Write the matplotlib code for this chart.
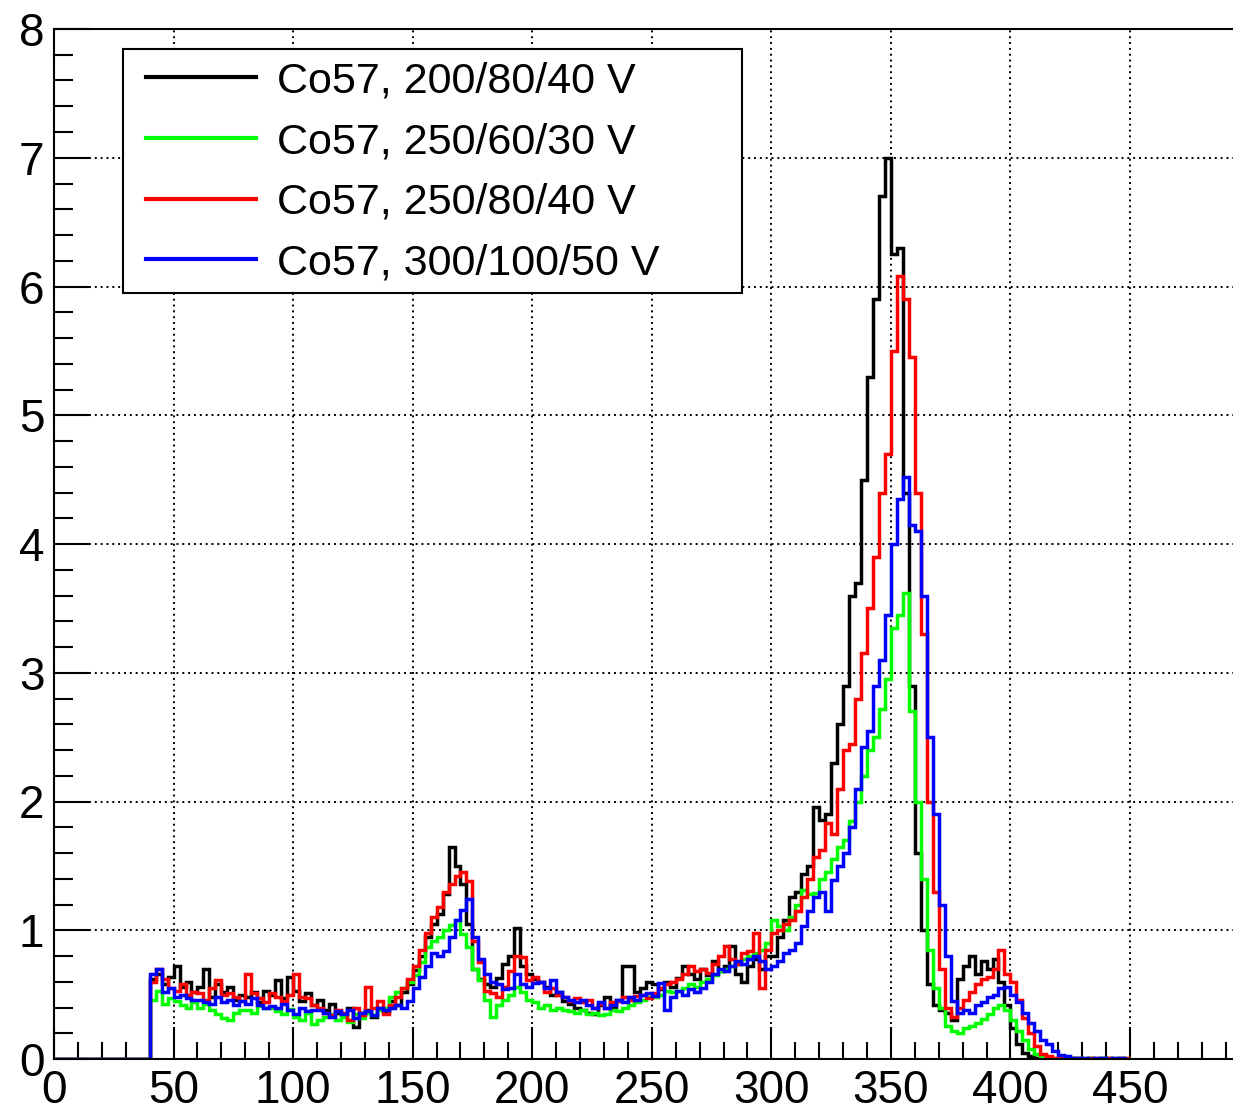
import numpy as np
import matplotlib
matplotlib.use("Agg")
import matplotlib.pyplot as plt
from matplotlib.ticker import MultipleLocator
from matplotlib.patches import Rectangle

plt.rcParams['font.family'] = ['Liberation Sans', 'DejaVu Sans']

# histogram binning (values start at x = 40, bins of 2.5 up to 450)
bin_width = 2.5
x_start = 40.0
x_end = 450.0

labels = ["Co57, 200/80/40 V", "Co57, 250/60/30 V",
          "Co57, 250/80/40 V", "Co57, 300/100/50 V"]
colors = ["#000000", "#00ff00", "#ff0000", "#0000ff"]

black = [
    0.62, 0.66, 0.58, 0.64,   # 40
    0.72, 0.56, 0.60, 0.52,   # 50
    0.56, 0.70, 0.48, 0.58,   # 60
    0.52, 0.56, 0.46, 0.50,   # 70
    0.48, 0.52, 0.44, 0.53,   # 80
    0.50, 0.61, 0.47, 0.64,   # 90
    0.53, 0.45, 0.51, 0.42,   # 100
    0.46, 0.38, 0.43, 0.36,   # 110
    0.35, 0.40, 0.25, 0.36,   # 120
    0.38, 0.33, 0.40, 0.37,   # 130
    0.45, 0.42, 0.52, 0.58,   # 140
    0.69, 0.80, 0.95, 1.05,   # 150
    1.13, 1.28, 1.65, 1.50,   # 160
    1.36, 1.05, 0.70, 0.62,   # 170
    0.58, 0.56, 0.63, 0.74,   # 180
    0.80, 1.02, 0.72, 0.66,   # 190
    0.62, 0.60, 0.56, 0.50,   # 200
    0.52, 0.45, 0.43, 0.40,   # 210
    0.38, 0.36, 0.35, 0.42,   # 220
    0.48, 0.40, 0.46, 0.72,   # 230
    0.72, 0.52, 0.55, 0.60,   # 240
    0.58, 0.54, 0.60, 0.56,   # 250
    0.63, 0.72, 0.66, 0.62,   # 260
    0.70, 0.65, 0.76, 0.68,   # 270
    0.72, 0.88, 0.66, 0.60,   # 280
    0.72, 0.78, 0.70, 0.80,   # 290
    0.80, 0.95, 1.08, 1.26,   # 300
    1.30, 1.44, 1.50, 1.96,   # 310
    1.86, 1.90, 2.30, 2.60,   # 320
    2.90, 3.60, 3.70, 4.50,   # 330
    5.30, 5.90, 6.70, 7.00,   # 340
    6.25, 6.30, 4.40, 2.90,   # 350
    1.60, 1.00, 0.58, 0.42,   # 360
    0.38, 0.36, 0.30, 0.62,   # 370
    0.72, 0.80, 0.66, 0.76,   # 380
    0.70, 0.78, 0.60, 0.42,   # 390
    0.24, 0.12, 0.05, 0.02,   # 400
    0.01, 0.00, 0.01, 0.00,   # 410
    0.01, 0.00, 0.01, 0.01,   # 420
    0.00, 0.01, 0.00, 0.01,   # 430
    0.01, 0.00, 0.01, 0.00,   # 440
]

green = [
    0.46, 0.53, 0.43, 0.47,   # 40
    0.45, 0.42, 0.40, 0.44,   # 50
    0.40, 0.43, 0.38, 0.35,   # 60
    0.32, 0.30, 0.36, 0.38,   # 70
    0.38, 0.36, 0.41, 0.40,   # 80
    0.40, 0.37, 0.35, 0.39,   # 90
    0.33, 0.30, 0.36, 0.27,   # 100
    0.30, 0.33, 0.35, 0.30,   # 110
    0.33, 0.29, 0.35, 0.32,   # 120
    0.36, 0.34, 0.38, 0.40,   # 130
    0.48, 0.52, 0.55, 0.60,   # 140
    0.65, 0.75, 0.87, 0.92,   # 150
    0.95, 1.00, 1.04, 1.08,   # 160
    0.97, 0.87, 0.70, 0.61,   # 170
    0.46, 0.33, 0.42, 0.46,   # 180
    0.50, 0.56, 0.52, 0.46,   # 190
    0.44, 0.40, 0.42, 0.38,   # 200
    0.40, 0.38, 0.37, 0.36,   # 210
    0.38, 0.35, 0.36, 0.34,   # 220
    0.35, 0.38, 0.37, 0.40,   # 230
    0.42, 0.44, 0.46, 0.48,   # 240
    0.48, 0.50, 0.53, 0.52,   # 250
    0.53, 0.55, 0.58, 0.56,   # 260
    0.60, 0.62, 0.65, 0.68,   # 270
    0.70, 0.72, 0.74, 0.78,   # 280
    0.80, 0.82, 0.85, 0.90,   # 290
    1.08, 1.03, 1.00, 1.10,   # 300
    1.20, 1.31, 1.28, 1.29,   # 310
    1.40, 1.45, 1.55, 1.65,   # 320
    1.70, 1.85, 2.00, 2.20,   # 330
    2.40, 2.50, 2.72, 2.95,   # 340
    3.35, 3.45, 3.62, 2.70,   # 350
    2.00, 1.40, 0.85, 0.55,   # 360
    0.40, 0.26, 0.22, 0.20,   # 370
    0.24, 0.26, 0.28, 0.31,   # 380
    0.35, 0.40, 0.42, 0.38,   # 390
    0.30, 0.22, 0.15, 0.08,   # 400
    0.04, 0.02, 0.01, 0.00,   # 410
    0.01, 0.00, 0.01, 0.00,   # 420
    0.01, 0.01, 0.00, 0.01,   # 430
    0.00, 0.01, 0.00, 0.01,   # 440
]

red = [
    0.60, 0.70, 0.62, 0.55,   # 40
    0.53, 0.58, 0.50, 0.52,   # 50
    0.51, 0.46, 0.55, 0.61,   # 60
    0.50, 0.51, 0.48, 0.45,   # 70
    0.66, 0.51, 0.47, 0.44,   # 80
    0.51, 0.48, 0.45, 0.50,   # 90
    0.66, 0.48, 0.47, 0.42,   # 100
    0.40, 0.36, 0.34, 0.38,   # 110
    0.36, 0.30, 0.40, 0.34,   # 120
    0.56, 0.40, 0.45, 0.35,   # 130
    0.42, 0.48, 0.55, 0.62,   # 140
    0.72, 0.85, 0.98, 1.10,   # 150
    1.18, 1.30, 1.36, 1.42,   # 160
    1.45, 1.38, 0.92, 0.75,   # 170
    0.53, 0.51, 0.48, 0.56,   # 180
    0.68, 0.80, 0.79, 0.61,   # 190
    0.64, 0.60, 0.52, 0.55,   # 200
    0.50, 0.48, 0.45, 0.47,   # 210
    0.44, 0.46, 0.40, 0.43,   # 220
    0.40, 0.44, 0.45, 0.48,   # 230
    0.46, 0.49, 0.50, 0.47,   # 240
    0.51, 0.55, 0.58, 0.60,   # 250
    0.62, 0.66, 0.72, 0.68,   # 260
    0.70, 0.67, 0.74, 0.80,   # 270
    0.88, 0.78, 0.74, 0.82,   # 280
    0.84, 0.98, 0.55, 0.85,   # 290
    0.98, 1.00, 1.05, 1.08,   # 300
    1.15, 1.26, 1.40, 1.57,   # 310
    1.62, 1.83, 1.75, 2.10,   # 320
    2.40, 2.45, 2.80, 3.15,   # 330
    3.50, 3.90, 4.40, 4.70,   # 340
    5.50, 6.08, 5.90, 5.45,   # 350
    4.40, 3.30, 2.00, 1.30,   # 360
    0.70, 0.40, 0.33, 0.40,   # 370
    0.46, 0.52, 0.58, 0.62,   # 380
    0.64, 0.70, 0.85, 0.66,   # 390
    0.60, 0.46, 0.32, 0.20,   # 400
    0.10, 0.04, 0.02, 0.01,   # 410
    0.01, 0.00, 0.01, 0.01,   # 420
    0.00, 0.01, 0.01, 0.00,   # 430
    0.01, 0.00, 0.01, 0.01,   # 440
]

blue = [
    0.66, 0.70, 0.52, 0.55,   # 40
    0.48, 0.50, 0.47, 0.46,   # 50
    0.46, 0.44, 0.43, 0.48,   # 60
    0.44, 0.46, 0.42, 0.45,   # 70
    0.43, 0.47, 0.42, 0.40,   # 80
    0.41, 0.40, 0.43, 0.38,   # 90
    0.35, 0.40, 0.37, 0.38,   # 100
    0.38, 0.36, 0.33, 0.37,   # 110
    0.35, 0.38, 0.32, 0.36,   # 120
    0.37, 0.34, 0.40, 0.38,   # 130
    0.40, 0.42, 0.40, 0.45,   # 140
    0.55, 0.64, 0.72, 0.82,   # 150
    0.80, 0.84, 0.95, 1.08,   # 160
    1.16, 1.24, 0.95, 0.78,   # 170
    0.66, 0.60, 0.58, 0.54,   # 180
    0.55, 0.66, 0.58, 0.56,   # 190
    0.59, 0.60, 0.55, 0.61,   # 200
    0.52, 0.48, 0.46, 0.44,   # 210
    0.46, 0.42, 0.40, 0.44,   # 220
    0.40, 0.42, 0.46, 0.44,   # 230
    0.48, 0.46, 0.50, 0.51,   # 240
    0.49, 0.59, 0.38, 0.48,   # 250
    0.53, 0.50, 0.54, 0.52,   # 260
    0.55, 0.60, 0.66, 0.70,   # 270
    0.68, 0.72, 0.76, 0.74,   # 280
    0.78, 0.80, 0.76, 0.70,   # 290
    0.72, 0.76, 0.82, 0.85,   # 300
    0.90, 1.03, 1.15, 1.26,   # 310
    1.30, 1.15, 1.39, 1.50,   # 320
    1.60, 1.80, 2.10, 2.42,   # 330
    2.55, 2.90, 3.10, 3.45,   # 340
    4.00, 4.35, 4.52, 4.15,   # 350
    4.10, 3.60, 2.50, 1.90,   # 360
    1.20, 0.80, 0.45, 0.36,   # 370
    0.38, 0.36, 0.42, 0.44,   # 380
    0.48, 0.50, 0.55, 0.56,   # 390
    0.50, 0.44, 0.36, 0.28,   # 400
    0.22, 0.15, 0.12, 0.06,   # 410
    0.03, 0.02, 0.01, 0.01,   # 420
    0.01, 0.00, 0.01, 0.01,   # 430
    0.00, 0.01, 0.01, 0.00,   # 440
]

series = [black, green, red, blue]

W, H = 1233, 1113
fig = plt.figure(figsize=(W / 100, H / 100), dpi=100)
fig.patch.set_facecolor("white")

px_per_unit = (1130 - 54) / 450.0
x_max = 495.0
ax = fig.add_axes([54 / W, (H - 1059) / H, (x_max * px_per_unit) / W, (1059 - 29) / H])

edges = np.arange(0.0, x_end + bin_width / 2, bin_width)
n_lead = int(round(x_start / bin_width))
for vals, col, lab in zip(series, colors, labels):
    full = np.concatenate([np.zeros(n_lead), np.asarray(vals, dtype=float)])
    ax.stairs(full, edges, color=col, linewidth=2.5, label=lab, baseline=None)

ax.set_xlim(0, x_max)
ax.set_ylim(0, 8)

ax.xaxis.set_major_locator(MultipleLocator(50))
ax.xaxis.set_minor_locator(MultipleLocator(10))
ax.yaxis.set_major_locator(MultipleLocator(1))
ax.yaxis.set_minor_locator(MultipleLocator(0.2))

ax.tick_params(axis="both", which="both", direction="in", top=False, right=False,
               width=1.5, labelsize=33, colors="black")
ax.tick_params(axis="x", which="major", length=23, pad=7)
ax.tick_params(axis="x", which="minor", length=12)
ax.tick_params(axis="y", which="major", length=26, pad=7)
ax.tick_params(axis="y", which="minor", length=13.5)

ax.grid(True, which="major", color="black", linestyle=(0, (1, 2)), linewidth=1.4)
ax.set_axisbelow(True)

for s in ax.spines.values():
    s.set_linewidth(1.5)

# legend box (ROOT style, fixed size)
box = Rectangle((123 / W, 1 - 293 / H), (742 - 123) / W, (293 - 49) / H,
                transform=fig.transFigure, facecolor="white", edgecolor="black",
                linewidth=1.5, zorder=4.5, clip_on=False)
ax.add_patch(box)

leg = ax.legend(loc="upper left", bbox_to_anchor=(127 / W, 1 - 42 / H, (742 - 127) / W, 0.0),
                bbox_transform=fig.transFigure, mode="expand", fontsize=31,
                frameon=False, borderaxespad=0, borderpad=0.45, handlelength=2.55,
                handletextpad=0.48, labelspacing=0.48)
leg.set_zorder(5)
for line in leg.get_lines():
    line.set_linewidth(3)

fig.savefig("out.png", dpi=100, facecolor="white")
